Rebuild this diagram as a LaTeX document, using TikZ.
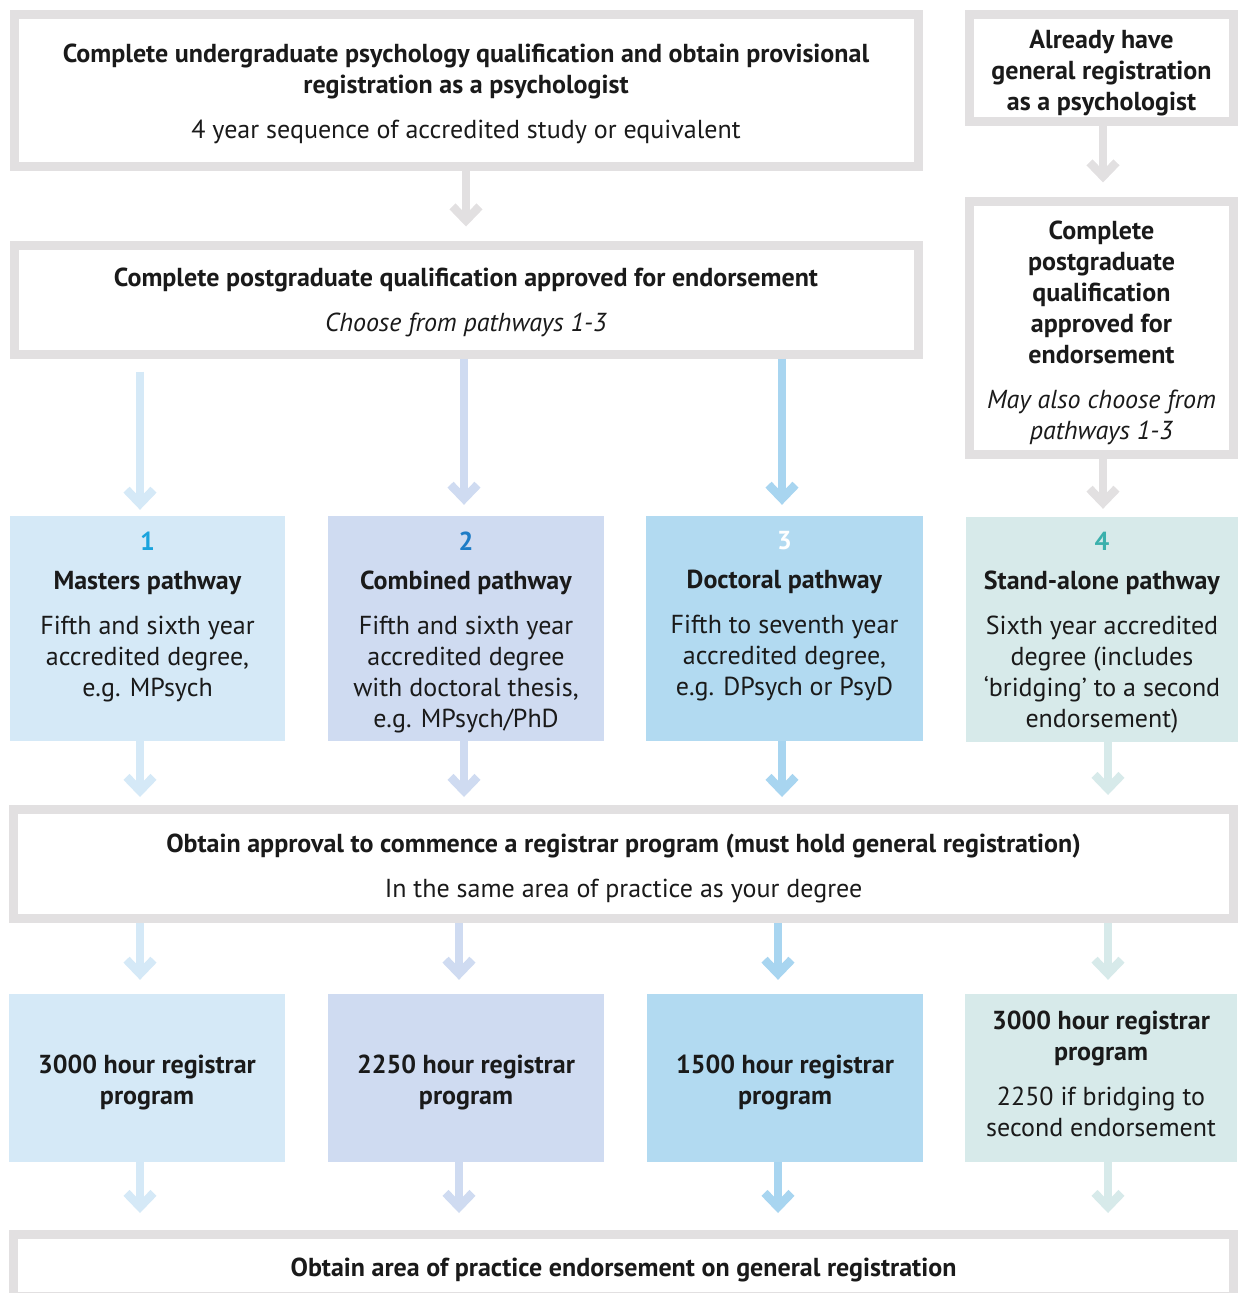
\documentclass[tikz,border=0pt]{standalone}
\usepackage{fontspec}
\setmainfont{PT Sans}
\usetikzlibrary{arrows.meta}
\definecolor{framegray}{HTML}{E2E0E1}
\definecolor{cone}{HTML}{D5E9F7}
\definecolor{ctwo}{HTML}{CFDBF1}
\definecolor{cthree}{HTML}{B2DAF1}
\definecolor{cfour}{HTML}{D7EAEA}
\definecolor{athree}{HTML}{A8D5F0}
\definecolor{none}{HTML}{1AA3DD}
\definecolor{ntwo}{HTML}{1E7CC6}
\definecolor{nfour}{HTML}{3AB0AC}
\definecolor{ink}{HTML}{1A1A1A}
\begin{document}
\begin{tikzpicture}[x=1pt,y=-1pt,
  every node/.style={text=ink, font=\fontsize{26}{31}\selectfont},
  frame/.style={draw=framegray, line width=9pt, fill=white, inner sep=0pt},
  cbox/.style={draw=none, inner sep=0pt, align=center},
  txt/.style={inner sep=0pt, align=center},
  lbl/.style={inner sep=0pt, align=center, anchor=north},
  ar/.style={line width=8.5pt, -{Straight Barb[sharp, length=14pt, width=27pt]}}
]
\useasboundingbox (0,0) rectangle (1237,1293);

% framed boxes
\node[frame, minimum width=904pt, minimum height=152pt] (A) at (466,90) {};
\node[frame, minimum width=904pt, minimum height=109pt] (B) at (466,299.5) {};
\node[frame, minimum width=264pt, minimum height=107.5pt] (R1) at (1101.5,67.8) {};
\node[frame, minimum width=264pt, minimum height=252.5pt] (R2) at (1101.5,328.2) {};
\node[frame, minimum width=1220pt, minimum height=109pt] (C) at (623.5,864) {};
\node[frame, minimum width=1220pt, minimum height=62pt] (D) at (623.5,1265.5) {};

\node[txt] (At) at ([yshift=-3.5pt]A.center)
  {\textbf{Complete undergraduate psychology qualification and obtain provisional}\\
   \textbf{registration as a psychologist}\\[14pt]
   4 year sequence of accredited study or equivalent};
\node[txt] (Bt) at ([yshift=-3pt]B.center)
  {\textbf{Complete postgraduate qualification approved for endorsement}\\[14pt]
   \textit{Choose from pathways 1-3}};
\node[txt] (R1t) at ([yshift=-5pt]R1.center)
  {\textbf{Already have}\\ \textbf{general registration}\\ \textbf{as a psychologist}};
\node[txt] (R2t) at ([yshift=-5pt]R2.center)
  {\textbf{Complete}\\ \textbf{postgraduate}\\ \textbf{qualification}\\ \textbf{approved for}\\ \textbf{endorsement}\\[14pt]
   \textit{May also choose from}\\ \textit{pathways 1-3}};
\node[txt] (Ct) at ([yshift=-4pt]C.center)
  {\textbf{Obtain approval to commence a registrar program (must hold general registration)}\\[14pt]
   In the same area of practice as your degree};
\node[txt] (Dt) at ([yshift=-4pt]D.center)
  {\textbf{Obtain area of practice endorsement on general registration}};

% pathway boxes
\node[cbox, fill=cone, minimum width=275pt, minimum height=225pt] (b1) at (147.5,628.5) {};
\node[cbox, fill=ctwo, minimum width=276pt, minimum height=225pt] (b2) at (466,628.5) {};
\node[cbox, fill=cthree, minimum width=277pt, minimum height=225pt] (b3) at (784.5,628.5) {};
\node[cbox, fill=cfour, minimum width=272pt, minimum height=225pt] (b4) at (1102,629.5) {};

\node[lbl] (t1) at ([yshift=-15.5pt]b1.north)
  {{\color{none}\bfseries 1}\\[8pt] \textbf{Masters pathway}\\[14pt]
   Fifth and sixth year\\ accredited degree,\\ e.g. MPsych};
\node[lbl] (t2) at ([yshift=-15.5pt]b2.north)
  {{\color{ntwo}\bfseries 2}\\[8pt] \textbf{Combined pathway}\\[14pt]
   Fifth and sixth year\\ accredited degree\\ with doctoral thesis,\\ e.g. MPsych/PhD};
\node[lbl] (t3) at ([yshift=-15.5pt]b3.north)
  {{\color{white}\bfseries 3}\\[8pt] \textbf{Doctoral pathway}\\[14pt]
   Fifth to seventh year\\ accredited degree,\\ e.g. DPsych or PsyD};
\node[lbl] (t4) at ([yshift=-15.5pt]b4.north)
  {{\color{nfour}\bfseries 4}\\[8pt] \textbf{Stand-alone pathway}\\[14pt]
   Sixth year accredited\\ degree (includes\\ ‘bridging’ to a second\\ endorsement)};

% registrar boxes
\node[cbox, fill=cone, minimum width=276pt, minimum height=168pt] (p1) at (147,1078) {};
\node[cbox, fill=ctwo, minimum width=276pt, minimum height=168pt] (p2) at (466,1078) {};
\node[cbox, fill=cthree, minimum width=276pt, minimum height=168pt] (p3) at (785,1078) {};
\node[cbox, fill=cfour, minimum width=272pt, minimum height=168pt] (p4) at (1101,1078) {};

\node[txt] (p1t) at ([yshift=-4pt]p1.center) {\textbf{3000 hour registrar}\\ \textbf{program}};
\node[txt] (p2t) at ([yshift=-4pt]p2.center) {\textbf{2250 hour registrar}\\ \textbf{program}};
\node[txt] (p3t) at ([yshift=-4pt]p3.center) {\textbf{1500 hour registrar}\\ \textbf{program}};
\node[txt] (p4t) at ([yshift=4pt]p4.center)
  {\textbf{3000 hour registrar}\\ \textbf{program}\\[14pt] 2250 if bridging to\\ second endorsement};

% arrow columns
\coordinate (xa) at (466,0);
\coordinate (xr) at (1103,0);
\coordinate (x1) at (140,0);
\coordinate (x2) at (464,0);
\coordinate (x3) at (782,0);
\coordinate (x4) at (1108,0);
\coordinate (y1) at (140,0);
\coordinate (y2) at (459,0);
\coordinate (y3) at (778,0);
\coordinate (y4) at (1108,0);

\draw[ar, framegray, shorten >=14pt] (xa |- A.south) -- (xa |- B.north);
\draw[ar, framegray, shorten >=15pt] (xr |- R1.south) -- (xr |- R2.north);
\draw[ar, framegray, shorten >=8pt] (xr |- R2.south) -- (xr |- b4.north);

\draw[ar, cone, shorten <=13pt, shorten >=6pt] (x1 |- B.south) -- (x1 |- b1.north);
\draw[ar, ctwo, shorten >=11pt] (x2 |- B.south) -- (x2 |- b2.north);
\draw[ar, athree, shorten >=11pt] (x3 |- B.south) -- (x3 |- b3.north);

\draw[ar, cone, shorten >=8pt] (x1 |- b1.south) -- (x1 |- C.north);
\draw[ar, ctwo, shorten >=8pt] (x2 |- b2.south) -- (x2 |- C.north);
\draw[ar, athree, shorten >=8pt] (x3 |- b3.south) -- (x3 |- C.north);
\draw[ar, cfour, shorten >=10pt] (x4 |- b4.south) -- (x4 |- C.north);

\draw[ar, cone, shorten >=14pt] (y1 |- C.south) -- (y1 |- p1.north);
\draw[ar, ctwo, shorten >=14pt] (y2 |- C.south) -- (y2 |- p2.north);
\draw[ar, athree, shorten >=14pt] (y3 |- C.south) -- (y3 |- p3.north);
\draw[ar, cfour, shorten >=14pt] (y4 |- C.south) -- (y4 |- p4.north);

\draw[ar, cone, shorten >=17pt] (y1 |- p1.south) -- (y1 |- D.north);
\draw[ar, ctwo, shorten >=17pt] (y2 |- p2.south) -- (y2 |- D.north);
\draw[ar, athree, shorten >=17pt] (y3 |- p3.south) -- (y3 |- D.north);
\draw[ar, cfour, shorten >=17pt] (y4 |- p4.south) -- (y4 |- D.north);
\end{tikzpicture}
\end{document}
